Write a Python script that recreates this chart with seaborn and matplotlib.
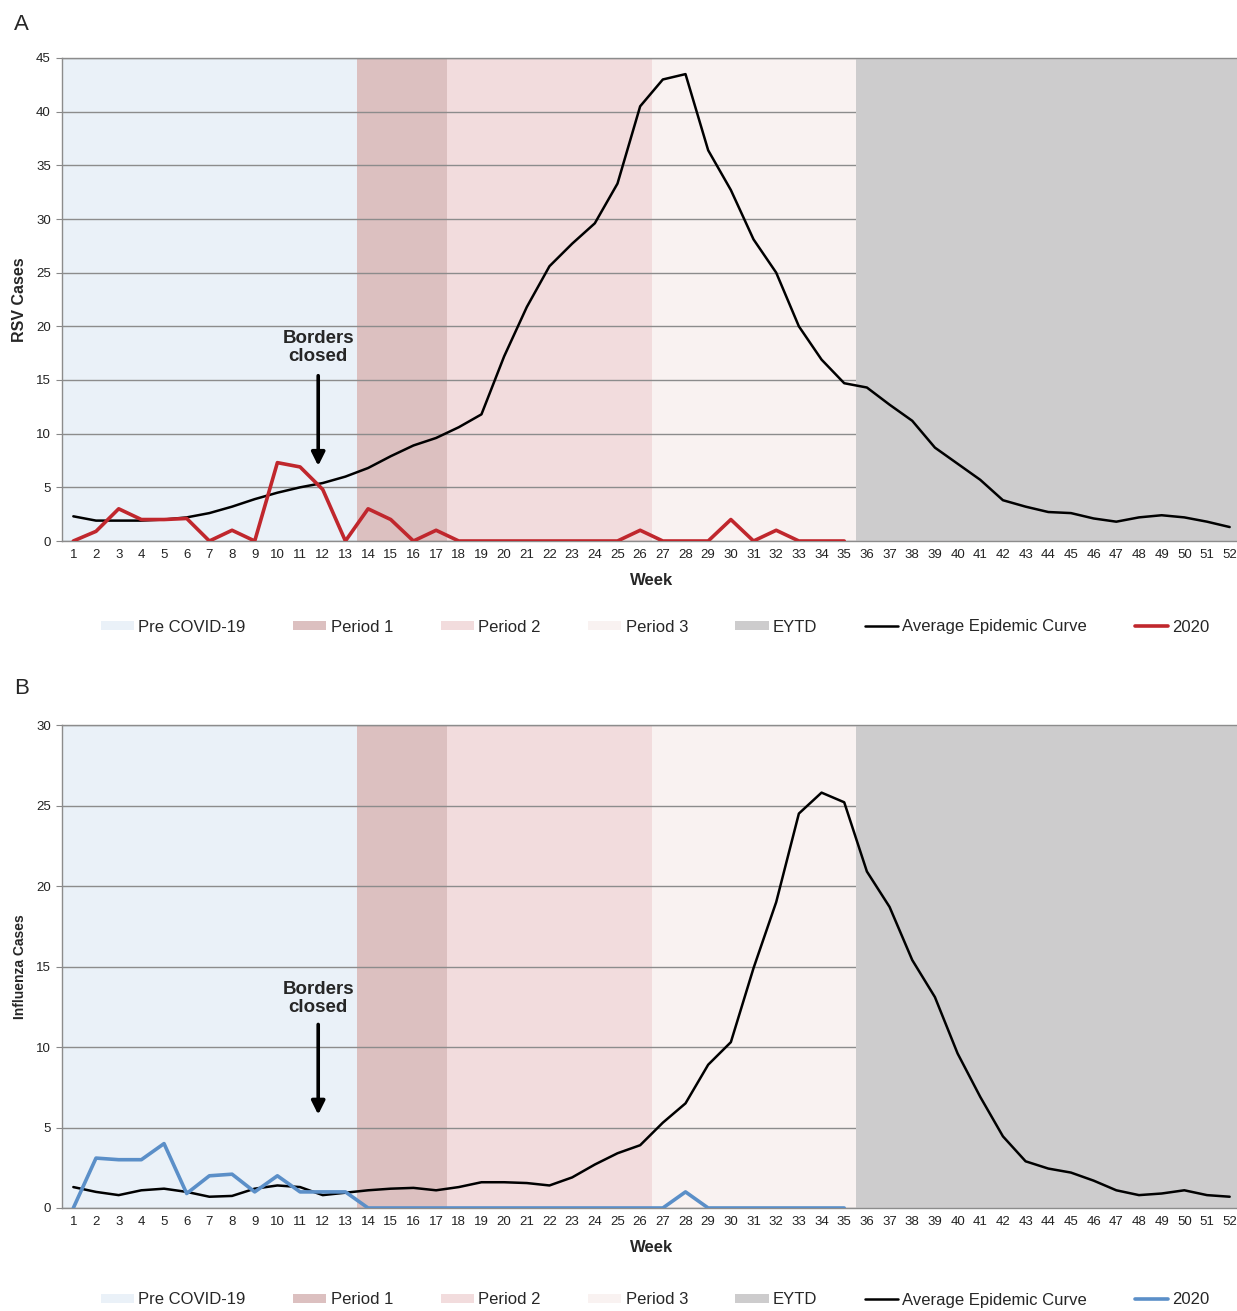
import numpy as np
import pandas as pd
import matplotlib
matplotlib.use("Agg")
import matplotlib.pyplot as plt
from matplotlib.patches import Patch
from matplotlib.lines import Line2D
from matplotlib import font_manager
import seaborn as sns

# ── Data ──────────────────────────────────────────────────────
weeks = list(range(1, 53))
weeks_2020 = list(range(1, 36))

rsv_avg = [2.3, 1.9, 1.9, 1.9, 2.0, 2.2, 2.6, 3.2, 3.9, 4.5, 5.0, 5.4, 6.0,
           6.8, 7.9, 8.9, 9.6, 10.6, 11.8, 17.2, 21.8, 25.6, 27.7, 29.6,
           33.3, 40.5, 43.0, 43.5, 36.4, 32.7, 28.1, 25.0, 20.0, 16.9, 14.7,
           14.3, 12.7, 11.2, 8.7, 7.2, 5.7, 3.8, 3.2, 2.7, 2.6, 2.1, 1.8,
           2.2, 2.4, 2.2, 1.8, 1.3]
rsv_2020 = [0, 0.9, 3.0, 2.0, 2.0, 2.1, 0, 1.0, 0, 7.3, 6.9, 4.8, 0, 3.0,
            2.0, 0, 1.0, 0, 0, 0, 0, 0, 0, 0, 0, 1.0, 0, 0, 0, 2.0, 0, 1.0,
            0, 0, 0]

flu_avg = [1.3, 1.0, 0.8, 1.1, 1.2, 1.0, 0.7, 0.75, 1.2, 1.4, 1.3, 0.8,
           0.95, 1.1, 1.2, 1.25, 1.1, 1.3, 1.6, 1.6, 1.55, 1.4, 1.9, 2.7,
           3.4, 3.9, 5.3, 6.5, 8.9, 10.3, 14.9, 19.0, 24.5, 25.8, 25.2, 20.9,
           18.7, 15.4, 13.1, 9.6, 6.9, 4.45, 2.9, 2.45, 2.2, 1.7, 1.1, 0.8,
           0.9, 1.1, 0.8, 0.7]
flu_2020 = [0, 3.1, 3.0, 3.0, 4.0, 0.9, 2.0, 2.1, 1.0, 2.0, 1.0, 1.0, 1.0,
            0, 0, 0, 0, 0, 0, 0, 0, 0, 0, 0, 0, 0, 0, 1.0, 0, 0, 0, 0, 0, 0, 0]

period_names = ["Pre COVID-19", "Period 1", "Period 2", "Period 3", "EYTD"]
period_first_week = [1, 14, 18, 27, 36]
period_last_week = [13, 17, 26, 35, 52]
period_colors = ["#eaf1f8", "#dcc0c0", "#f2dcdd", "#f9f2f1", "#cdcccd"]

borders_closed_week = 11.8

# ── Style ─────────────────────────────────────────────────────
sns.set_style("white")
narrow = "Liberation Sans Narrow"
have_narrow = any(f.name == narrow for f in font_manager.fontManager.ttflist)
plt.rcParams["font.family"] = ["Liberation Sans", "DejaVu Sans"]
legend_family = [narrow, "Liberation Sans"] if have_narrow else ["Liberation Sans"]

W, H = 1237, 1311
fig = plt.figure(figsize=(W / 100, H / 100), dpi=100)


def px_axes(left, top, right, bottom):
    return fig.add_axes([left / W, 1 - bottom / H, (right - left) / W,
                         (bottom - top) / H])


def draw_panel(ax, avg, cur, cur_color, ymax, ylabel, ylab_size,
               text_y, arrow_top, arrow_tip):
    for name, a, b, c in zip(period_names, period_first_week,
                             period_last_week, period_colors):
        ax.axvspan(a - 0.5, b + 0.5, color=c, lw=0,
                   zorder=0.8 if name == "EYTD" else 0.2)

    df_avg = pd.DataFrame({"week": weeks, "cases": avg})
    df_cur = pd.DataFrame({"week": weeks_2020, "cases": cur})
    sns.lineplot(data=df_avg, x="week", y="cases", ax=ax, color="black",
                 lw=1.8, zorder=3)
    sns.lineplot(data=df_cur, x="week", y="cases", ax=ax, color=cur_color,
                 lw=2.6, zorder=4)

    ax.set_xlim(0.5, 52.5)
    ax.set_ylim(0, ymax)
    ax.set_xticks(weeks)
    ax.set_xticklabels([str(w) for w in weeks])
    ax.set_xticks(np.arange(0.5, 53, 1), minor=True)
    ax.tick_params(axis="x", which="major", length=0, pad=6, labelsize=9.5,
                   labelcolor="#222222")
    ax.tick_params(axis="x", which="minor", length=4, width=0.8,
                   color="#888888", direction="out")
    ax.set_yticks(np.arange(0, ymax + 1, 5))
    ax.tick_params(axis="y", length=4, width=0.8, color="#888888",
                   labelsize=9.5, labelcolor="#222222", pad=4, left=True)

    ax.grid(axis="y", color="#8c8c8c", lw=1)
    ax.grid(axis="x", visible=False)
    ax.set_axisbelow(True)
    for s in ["left", "bottom", "top"]:
        ax.spines[s].set_color("#8c8c8c")
        ax.spines[s].set_linewidth(1)
    ax.spines["right"].set_visible(False)

    ax.set_xlabel("Week", fontsize=12, fontweight="bold")
    ax.xaxis.set_label_coords(0.5, -0.067)
    ax.set_ylabel(ylabel, fontsize=ylab_size, fontweight="bold")
    ax.yaxis.set_label_coords(-0.030, 0.5)

    ax.annotate("", xy=(borders_closed_week, arrow_tip),
                xytext=(borders_closed_week, arrow_top),
                arrowprops=dict(arrowstyle="-|>", lw=2.6, color="black",
                                mutation_scale=20, shrinkA=0, shrinkB=0),
                zorder=6)
    ax.text(borders_closed_week, text_y, "Borders\nclosed", ha="center",
            va="center", fontsize=13.5, fontweight="bold", linespacing=1.05,
            zorder=6)


def draw_legend(cur_color, y_px):
    handles = [Patch(facecolor=c, edgecolor="none") for c in period_colors]
    handles += [Line2D([], [], color="black", lw=1.8),
                Line2D([], [], color=cur_color, lw=2.6)]
    labels = period_names + ["Average Epidemic Curve", "2020"]
    fig.legend(handles, labels, loc="center", ncol=7, frameon=False,
               bbox_to_anchor=(655 / W, 1 - y_px / H),
               prop={"family": legend_family, "size": 13.5 if have_narrow else 12},
               handlelength=2.0, handleheight=0.5, handletextpad=0.25,
               columnspacing=2.85)


# ── Panel A: RSV ──────────────────────────────────────────────
ax_a = px_axes(62, 58, 1241, 541)
draw_panel(ax_a, rsv_avg, rsv_2020, "#c0272d", 45, "RSV Cases", 11.5,
           text_y=18.0, arrow_top=15.4, arrow_tip=7.0)
draw_legend("#c0272d", 627)
fig.text(14 / W, 1 - 24 / H, "A", fontsize=16, va="center", ha="left")

# ── Panel B: Influenza ────────────────────────────────────────
ax_b = px_axes(62, 725, 1241, 1208)
draw_panel(ax_b, flu_avg, flu_2020, "#5b8fc8", 30, "Influenza Cases", 10,
           text_y=13.0, arrow_top=11.4, arrow_tip=5.8)
draw_legend("#5b8fc8", 1300)
fig.text(14 / W, 1 - 688 / H, "B", fontsize=16, va="center", ha="left")

fig.savefig("out.png", dpi=100)
